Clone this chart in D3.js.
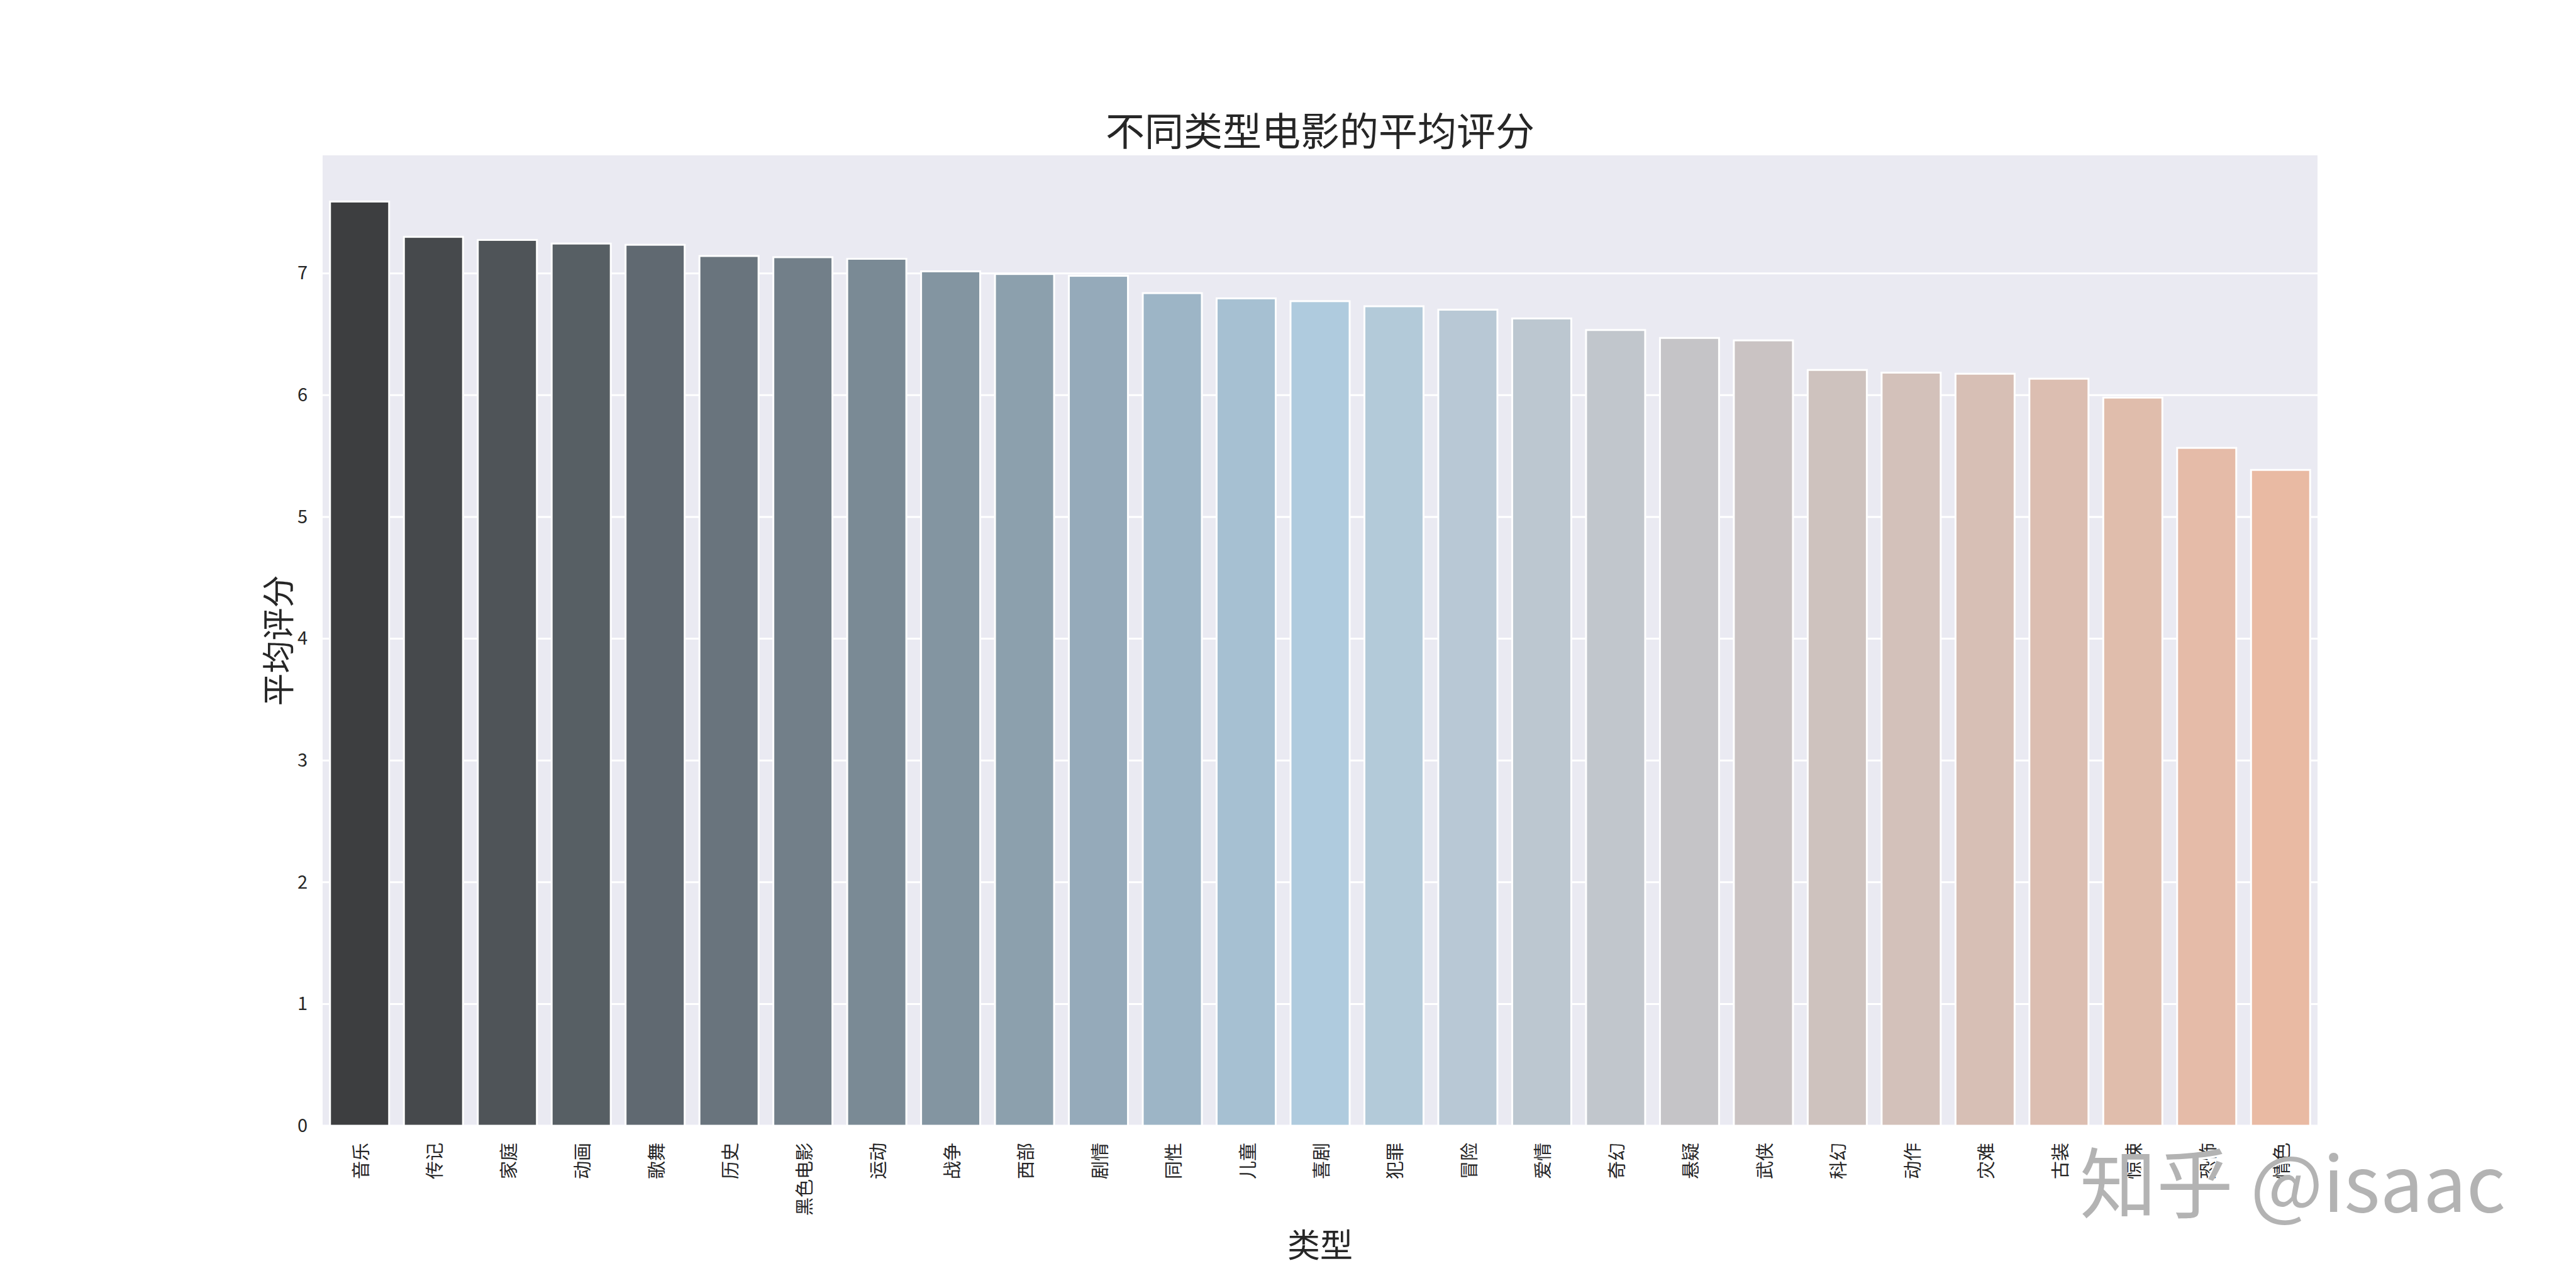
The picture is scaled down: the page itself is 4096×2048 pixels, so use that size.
<!DOCTYPE html>
<html>
<head>
<meta charset="utf-8">
<script src="https://d3js.org/d3.v7.min.js"></script>
<style>
    body { margin: 0; background: #fff; }
    text { font-family: "Noto Sans CJK SC", "DejaVu Sans", sans-serif; fill: #262626; }
</style>
</head>
<body>
<div id="my_dataviz"></div>
<script>
    // genres, sorted by average score
    var genres = ["音乐", "传记", "家庭", "动画", "歌舞", "历史", "黑色电影", "运动", "战争", "西部",
        "剧情", "同性", "儿童", "喜剧", "犯罪", "冒险", "爱情", "奇幻", "悬疑", "武侠",
        "科幻", "动作", "灾难", "古装", "惊悚", "恐怖", "情色"];
    var scores = [7.59, 7.30, 7.275, 7.245, 7.235, 7.143, 7.133, 7.12, 7.017, 6.995,
        6.98, 6.838, 6.795, 6.772, 6.73, 6.702, 6.63, 6.535, 6.47, 6.45,
        6.207, 6.185, 6.176, 6.135, 5.98, 5.567, 5.386];
    var yTicks = [0, 1, 2, 3, 4, 5, 6, 7];

    var W = 4096, H = 2048;
    var margin = { top: 247, right: 411, bottom: 258, left: 513 },
        width = W - margin.left - margin.right,
        height = H - margin.top - margin.bottom;

    var svg = d3.select("#my_dataviz")
        .append("svg")
        .attr("width", W)
        .attr("height", H);

    var g = svg.append("g")
        .attr("transform", "translate(" + margin.left + "," + margin.top + ")");

    // background of the axes (seaborn darkgrid)
    g.append("rect")
        .attr("width", width)
        .attr("height", height)
        .attr("fill", "#eaeaf2");

    var x = d3.scaleBand()
        .domain(genres)
        .range([0, width])
        .paddingInner(0.2)
        .paddingOuter(0.1);

    var y = d3.scaleLinear()
        .domain([0, d3.max(scores) * 1.05])
        .range([height, 0]);

    // colour blend: dark grey -> light blue -> salmon
    var color = d3.scaleLinear()
        .domain([0, (genres.length - 1) / 2, genres.length - 1])
        .range(["#3d3e40", "#afcbde", "#e9baa3"])
        .interpolate(d3.interpolateRgb);

    // horizontal grid
    g.append("g")
        .selectAll("line")
        .data(yTicks)
        .enter()
        .append("line")
        .attr("x1", 0)
        .attr("x2", width)
        .attr("y1", function (d) { return y(d); })
        .attr("y2", function (d) { return y(d); })
        .attr("stroke", "#ffffff")
        .attr("stroke-width", 3);

    // Bars
    g.selectAll("mybar")
        .data(scores)
        .enter()
        .append("rect")
        .attr("x", function (d, i) { return x(genres[i]); })
        .attr("y", function (d) { return y(d); })
        .attr("width", x.bandwidth())
        .attr("height", function (d) { return height - y(d); })
        .attr("fill", function (d, i) { return color(i); })
        .attr("stroke", "#ffffff")
        .attr("stroke-width", 3);

    // Y axis
    var yAxis = g.append("g")
        .call(d3.axisLeft(y).tickValues(yTicks).tickSize(0).tickPadding(24).tickFormat(d3.format("d")));
    yAxis.select(".domain").remove();
    yAxis.selectAll("text")
        .style("font-size", "29px")
        .attr("fill", "#262626");

    // X axis, rotated labels
    var xAxis = g.append("g")
        .attr("transform", "translate(0," + height + ")")
        .call(d3.axisBottom(x).tickSize(0).tickPadding(0));
    xAxis.select(".domain").remove();
    xAxis.selectAll("text")
        .attr("y", 0)
        .attr("dy", null)
        .attr("transform", "translate(0,27) rotate(-90)")
        .attr("dominant-baseline", "central")
        .style("text-anchor", "end")
        .style("font-size", "29px")
        .attr("fill", "#262626");

    // title and axis labels
    svg.append("text")
        .attr("x", margin.left + width / 2)
        .attr("y", 205)
        .attr("text-anchor", "middle")
        .attr("dominant-baseline", "central")
        .style("font-size", "62px")
        .text("不同类型电影的平均评分");

    svg.append("text")
        .attr("x", margin.left + width / 2)
        .attr("y", 1976)
        .attr("text-anchor", "middle")
        .attr("dominant-baseline", "central")
        .style("font-size", "52px")
        .text("类型");

    svg.append("text")
        .attr("transform", "translate(439," + (margin.top + height / 2) + ") rotate(-90)")
        .attr("text-anchor", "middle")
        .attr("dominant-baseline", "central")
        .style("font-size", "52px")
        .text("平均评分");

    // watermark
    svg.append("text")
        .attr("x", 3303)
        .attr("y", 1931)
        .style("font-size", "122px")
        .style("fill", "#ffffff")
        .text("知乎 @isaac");
    svg.append("text")
        .attr("x", 3307)
        .attr("y", 1927)
        .style("font-size", "122px")
        .style("fill", "#b3b3b3")
        .text("知乎 @isaac");
</script>
</body>
</html>
